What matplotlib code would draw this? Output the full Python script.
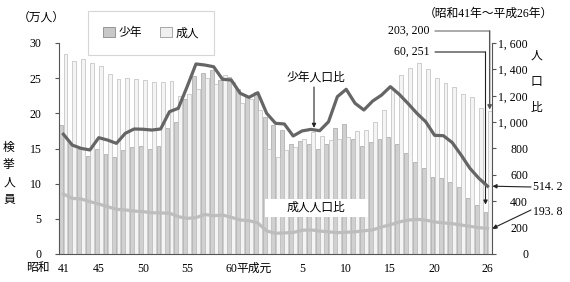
import matplotlib
matplotlib.use("Agg")
import matplotlib.pyplot as plt
from matplotlib.patches import Patch, Rectangle
from matplotlib.transforms import ScaledTranslation
import numpy as np

plt.rcParams['font.family'] = ['Liberation Serif', 'Noto Sans CJK JP']
plt.rcParams['font.size'] = 8

# 昭和41年 ～ 平成26年 (49 years)
tick_idx = [0, 4, 9, 14, 19, 23, 27, 32, 37, 42, 48]
tick_labels = ["41", "45", "50", "55", "60", "平成元", "5", "10", "15", "20", "26"]

# 検挙人員 (万人)
juvenile = [18.3, 15.8, 14.9, 13.9, 14.9, 14.2, 13.8, 14.8, 15.2, 15.3, 15.0, 15.4,
            17.9, 18.7, 22.0, 25.3, 25.8, 26.2, 24.8, 25.2, 23.5, 22.3, 23.1,
            19.5, 18.3, 17.7, 15.7, 16.0, 15.6, 14.9, 15.7, 17.9, 18.5, 16.4, 15.3,
            15.9, 16.4, 16.6, 15.6, 14.4, 13.1, 12.2, 10.9, 10.8, 10.3, 9.5, 7.9, 7.0, 6.0251]
adult = [28.5, 27.4, 27.7, 27.1, 26.8, 25.6, 24.9, 25.0, 24.9, 24.8, 24.4, 24.4,
         24.6, 22.5, 22.7, 23.4, 25.0, 24.2, 25.4, 24.5, 21.4, 22.1, 20.5,
         14.9, 13.8, 14.8, 15.2, 16.4, 17.4, 16.8, 16.2, 16.4, 16.7, 17.5, 17.7,
         18.8, 20.5, 23.5, 25.5, 26.4, 27.2, 26.3, 25.0, 24.3, 23.7, 22.8, 22.3, 20.7, 20.32]

# 人口比
juv_ratio = [908, 826, 801, 789, 882, 864, 839, 915, 948, 946, 940, 948,
             1079, 1105, 1269, 1441, 1433, 1420, 1325, 1319, 1219, 1188, 1223,
             1067, 991, 986, 895, 933, 945, 935, 1003, 1193, 1249, 1143, 1092,
             1160, 1205, 1269, 1211, 1141, 1067, 1003, 900, 897, 845, 751, 650, 575, 514.2]
adult_ratio = [455, 422, 417, 397, 379, 359, 339, 334, 326, 321, 313, 311,
               310, 283, 270, 276, 300, 290, 296, 278, 258, 253, 235,
               175, 157, 160, 163, 180, 183, 174, 168, 162, 165, 168, 176,
               183, 205, 222, 243, 257, 263, 257, 243, 236, 230, 220, 210, 200, 193.8]

x = np.arange(len(juvenile))
H = 282

fig = plt.figure(figsize=(5.7, 2.82), dpi=100)
ax = fig.add_axes([59 / 570, 28 / 282, 433 / 570, 211 / 282])

ax.bar(x - 0.235, juvenile, width=0.44, color='#d0d0d0', edgecolor='#a5a5a5', lw=0.5)
ax.bar(x + 0.235, adult, width=0.44, color='#f4f4f4', edgecolor='#bcbcbc', lw=0.5)
ax.set_xlim(-0.5, 48.5)
ax.set_ylim(0, 30)
ax.set_yticks(range(0, 31, 5))
ax.set_xticks(tick_idx)
ax.set_xticklabels(tick_labels)
ax.tick_params(axis='x', length=0, pad=6.5, labelsize=8.5)
ax.tick_params(axis='y', length=3, width=0.8, color='#555555', pad=9.5, labelsize=8.5)
for s in ['left', 'bottom']:
    ax.spines[s].set_color('#555555')
ax.spines['top'].set_visible(False)
ax.spines['right'].set_visible(False)

lab = ax.get_xticklabels()[5]
lab.set_transform(lab.get_transform() + ScaledTranslation(-13 / 100, 0, fig.dpi_scale_trans))

ax2 = ax.twinx()
ax2.set_ylim(0, 1600)
ax2.set_yticks(range(0, 1601, 200))
ax2.set_yticklabels(["{:,}".format(v).replace(',', ', ') for v in range(0, 1601, 200)])
for t in ax2.get_yticklabels():
    t.set_horizontalalignment('right')
ax2.tick_params(axis='y', length=3, width=0.8, color='#555555', pad=23, labelsize=8.5)
ax2.spines['top'].set_visible(False)
ax2.spines['left'].set_visible(False)
ax2.spines['bottom'].set_visible(False)
ax2.spines['right'].set_color('#555555')

ax2.plot(x, juv_ratio, color='#656565', lw=2.3, solid_joinstyle='round')
ax2.plot(x, adult_ratio, color='#bdbdbd', lw=2.3, solid_joinstyle='round')

# labels for the lines
ax2.text(316, H - 78, "少年人口比", transform=None, ha='center', va='center', fontsize=8.5)
xa = (314 - 59) / 433 * 49 - 0.5
ax2.annotate('', xy=(xa, np.interp(xa, x, juv_ratio) + 15), xytext=(314, H - 87),
             textcoords='figure pixels', annotation_clip=False,
             arrowprops=dict(arrowstyle='-|>', color='#222222', lw=0.8,
                             mutation_scale=6, shrinkA=0, shrinkB=0))

ax2.add_patch(Rectangle((0.476, 0.175), 0.238, 0.086, transform=ax2.transAxes,
                        facecolor='white', edgecolor='none', zorder=5))
ax2.text(316, H - 208, "成人人口比", transform=None, ha='center', va='center',
         fontsize=8.5, zorder=6)

# call-outs for the last year
last = x[-1]
ax.annotate("203, 200", xy=(430, H - 31), xycoords='figure pixels', ha='right', va='center', fontsize=8.5)
ax.annotate('', xy=(last + 0.235, H - 31), xycoords=('data', 'figure pixels'),
            xytext=(435, H - 31), textcoords='figure pixels', annotation_clip=False,
            arrowprops=dict(arrowstyle='-', color='#888888', lw=1, shrinkA=0, shrinkB=0))
ax.annotate('', xy=(last + 0.235, adult[-1] + 0.2), xycoords='data',
            xytext=(last + 0.235, H - 31), textcoords=('data', 'figure pixels'), annotation_clip=False,
            arrowprops=dict(arrowstyle='-|>', color='#555555', lw=1, mutation_scale=6, shrinkA=0, shrinkB=0))

ax.annotate("60, 251", xy=(430, H - 52), xycoords='figure pixels', ha='right', va='center', fontsize=8.5)
ax.annotate('', xy=(last - 0.235, H - 52), xycoords=('data', 'figure pixels'),
            xytext=(435, H - 52), textcoords='figure pixels', annotation_clip=False,
            arrowprops=dict(arrowstyle='-', color='#222222', lw=0.8, shrinkA=0, shrinkB=0))
ax.annotate('', xy=(last - 0.235, juvenile[-1] + 1.0), xycoords='data',
            xytext=(last - 0.235, H - 52), textcoords=('data', 'figure pixels'), annotation_clip=False,
            arrowprops=dict(arrowstyle='-|>', color='#222222', lw=0.8, mutation_scale=6, shrinkA=0, shrinkB=0))

ax2.text(533, H - 187, "{:.1f}".format(juv_ratio[-1]).replace('.', '. '), transform=None,
         ha='left', va='center', fontsize=8.5)
ax2.annotate('', xy=(48.55, juv_ratio[-1]), xytext=(531, H - 187), textcoords='figure pixels',
             annotation_clip=False,
             arrowprops=dict(arrowstyle='-|>', color='#222222', lw=0.8, mutation_scale=6, shrinkA=0, shrinkB=0))
ax2.text(533, H - 212, "{:.1f}".format(adult_ratio[-1]).replace('.', '. '), transform=None,
         ha='left', va='center', fontsize=8.5)
ax2.annotate('', xy=(48.55, adult_ratio[-1]), xytext=(531, H - 210), textcoords='figure pixels',
             annotation_clip=False,
             arrowprops=dict(arrowstyle='-|>', color='#222222', lw=0.8, mutation_scale=6, shrinkA=0, shrinkB=0))

# axis titles and notes
fig.text(41 / 570, 1 - 18 / H, "（万人）", ha='center', va='center', fontsize=8.5)
fig.text(488 / 570, 1 - 14 / H, "（昭和41年～平成26年）", ha='center', va='center', fontsize=8.5)
fig.text(9 / 570, 1 - 174 / H, "検\n挙\n人\n員", ha='center', va='center', fontsize=8.5, linespacing=1.6)
fig.text(536 / 570, 1 - 82 / H, "人\n口\n比", ha='center', va='center', fontsize=8.5, linespacing=2.6)
fig.text(38 / 570, 1 - 268 / H, "昭和", ha='center', va='center', fontsize=8.5)

handles = [Patch(facecolor='#c8c8c8', edgecolor='#8a8a8a', lw=0.6),
           Patch(facecolor='#f0f0f0', edgecolor='#9a9a9a', lw=0.6)]
leg = fig.legend(handles, ["少年", "成人"], loc='center', bbox_to_anchor=(151 / 570, 1 - 33 / H),
                 ncol=2, frameon=True, fancybox=False, edgecolor='#cccccc', handlelength=1.0,
                 handleheight=1.0, handletextpad=0.3, columnspacing=1.5, borderpad=1.3, fontsize=8.5)
leg.get_frame().set_linewidth(0.8)

plt.savefig("out.png", dpi=100)
